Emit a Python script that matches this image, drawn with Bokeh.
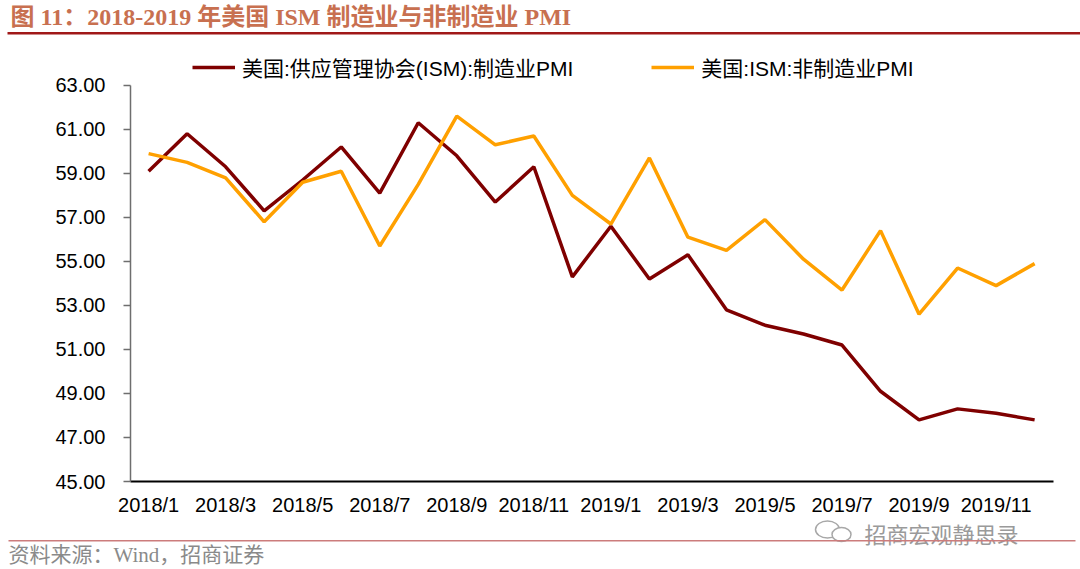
from bokeh.plotting import figure
from bokeh.layouts import column, row
from bokeh.models import (Range1d, FixedTicker, Legend, LegendItem,
                          PrintfTickFormatter)
from bokeh.core.properties import value
from bokeh.embed import file_html
from bokeh.resources import INLINE

months = ["2018/1", "2018/2", "2018/3", "2018/4", "2018/5", "2018/6",
          "2018/7", "2018/8", "2018/9", "2018/10", "2018/11", "2018/12",
          "2019/1", "2019/2", "2019/3", "2019/4", "2019/5", "2019/6",
          "2019/7", "2019/8", "2019/9", "2019/10", "2019/11", "2019/12"]
mfg_pmi = [59.1, 60.8, 59.3, 57.3, 58.7, 60.2, 58.1, 61.3, 59.8, 57.7, 59.3, 54.3,
           56.6, 54.2, 55.3, 52.8, 52.1, 51.7, 51.2, 49.1, 47.8, 48.3, 48.1, 47.8]
nonmfg_pmi = [59.9, 59.5, 58.8, 56.8, 58.6, 59.1, 55.7, 58.5, 61.6, 60.3, 60.7, 58.0,
              56.7, 59.7, 56.1, 55.5, 56.9, 55.1, 53.7, 56.4, 52.6, 54.7, 53.9, 54.9]
y_ticks = [45, 47, 49, 51, 53, 55, 57, 59, 61, 63]
series_names = ["美国:供应管理协会(ISM):制造业PMI", "美国:ISM:非制造业PMI"]
title_text = "图 11：2018-2019 年美国 ISM 制造业与非制造业 PMI"
source_text = "资料来源：Wind，招商证券"
watermark_text = "招商宏观静思录"

W = 1080
SANS = "Liberation Sans, Noto Sans CJK SC"
SERIF = "Liberation Serif, Noto Sans CJK SC"


def blank(height):
    f = figure(width=W, height=height, output_backend="svg", toolbar_location=None,
               x_range=Range1d(0, W), y_range=Range1d(height, 0),
               x_axis_location=None, y_axis_location=None,
               min_border=0, title=None)
    f.outline_line_color = None
    f.grid.visible = False
    f.background_fill_color = "white"
    f.border_fill_color = "white"
    return f


# ---------- header: title + rule ----------
head = blank(56)
head.text(x=[10], y=[16], text=[title_text], text_font=value(SERIF),
          text_font_style="bold", text_font_size="24px", text_color="#C87050",
          text_baseline="middle", text_align="left")
head.quad(left=[7], right=[W], top=[31.5], bottom=[34],
          fill_color="#A01818", line_color=None)

# ---------- main chart ----------
xs = list(range(len(months)))
p = figure(width=W, height=462, output_backend="svg", toolbar_location=None,
           x_range=Range1d(-0.47, 23.49), y_range=Range1d(45, 64.3116),
           min_border_left=130, min_border_right=27, min_border_top=0,
           min_border_bottom=35, title=None)
p.outline_line_color = None
p.xgrid.grid_line_color = None
p.ygrid.grid_line_color = None
p.background_fill_color = "white"
p.border_fill_color = "white"

r1 = p.line(xs, mfg_pmi, line_color="#7F0000", line_width=3.5)
r2 = p.line(xs, nonmfg_pmi, line_color="#FFA000", line_width=3.5)

ya = p.yaxis[0]
ya.ticker = FixedTicker(ticks=y_ticks)
ya.bounds = (45, 63)
ya.formatter = PrintfTickFormatter(format="%.2f")
ya.major_tick_out = 7
ya.major_tick_in = 0
ya.minor_tick_out = 0
ya.minor_tick_in = 0
ya.axis_line_color = "#6E6E6E"
ya.axis_line_width = 1.5
ya.major_tick_line_color = "#6E6E6E"
ya.major_tick_line_width = 1.5
ya.major_label_standoff = 18
ya.major_label_text_font = "Liberation Sans"
ya.major_label_text_font_size = "20px"
ya.major_label_text_color = "#000000"

xa = p.xaxis[0]
xa.ticker = FixedTicker(ticks=xs[::2])
xa.major_label_overrides = {i: months[i] for i in xs[::2]}
xa.major_tick_out = 0
xa.major_tick_in = 0
xa.minor_tick_out = 0
xa.minor_tick_in = 0
xa.axis_line_color = "#000000"
xa.axis_line_width = 2
xa.major_label_standoff = 12
xa.major_label_text_font = "Liberation Sans"
xa.major_label_text_font_size = "20px"
xa.major_label_text_color = "#000000"

legend = Legend(items=[LegendItem(label=series_names[0], renderers=[r1]),
                       LegendItem(label=series_names[1], renderers=[r2])],
                orientation="horizontal", location=(62, 399),
                glyph_width=43, glyph_height=24, label_height=24,
                label_standoff=7, spacing=78, padding=0, margin=0,
                border_line_alpha=0, background_fill_alpha=0,
                label_text_font=SANS, label_text_font_size="21px",
                label_text_color="#000000")
p.add_layout(legend, "center")

# ---------- footer: watermark, rule, source ----------
foot = blank(51)
foot.ellipse(x=[827], y=[11], width=[24], height=[17], fill_color=None,
             line_color="#A8A8A8", line_width=1.5)
foot.ellipse(x=[841], y=[16], width=[19], height=[14], fill_color="white",
             line_color="#A8A8A8", line_width=1.5)
foot.text(x=[864], y=[14], text=[watermark_text], text_font=value("Noto Sans CJK SC"),
          text_font_size="22px", text_color="#9A9A9A",
          text_baseline="middle", text_align="left")
foot.quad(left=[8], right=[1075], top=[21.5], bottom=[23],
          fill_color="#CC7C7C", line_color=None)
foot.text(x=[8], y=[36], text=[source_text], text_font=value(SERIF),
          text_font_size="21px", text_color="#8A8A8A",
          text_baseline="middle", text_align="left")

layout = column(row(head), p, row(foot), spacing=0)
open("out.html", "w").write(file_html(layout, INLINE))
